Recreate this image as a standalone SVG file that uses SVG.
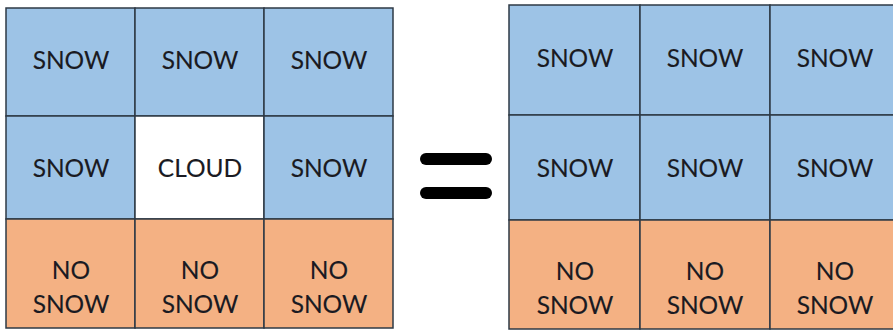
<svg xmlns="http://www.w3.org/2000/svg" width="893" height="334" viewBox="0 0 893 334">
<style>
.b{fill:#9dc3e6;stroke:#2e3a45;stroke-width:1.5}
.o{fill:#f4b183;stroke:#2e3a45;stroke-width:1.5}
.w{fill:#ffffff;stroke:#2e3a45;stroke-width:1.5}
text{font-family:Lato,"Open Sans",sans-serif;font-size:24.5px;fill:#1a1a22;text-anchor:middle;stroke:#1a1a22;stroke-width:0.1}
.eq{stroke:#000;stroke-width:12;stroke-linecap:round}
</style>
<rect width="893" height="334" fill="#ffffff"/>
<g id="left-grid">
<g id="L11"><rect class="b" x="6" y="8" width="129" height="108"/><text x="71" y="69">SNOW</text></g>
<g id="L12"><rect class="b" x="135" y="8" width="129" height="108"/><text x="200" y="69">SNOW</text></g>
<g id="L13"><rect class="b" x="264" y="8" width="129" height="108"/><text x="329" y="69">SNOW</text></g>
<g id="L21"><rect class="b" x="6" y="116" width="129" height="103"/><text x="71" y="177">SNOW</text></g>
<g id="L22"><rect class="w" x="135" y="116" width="129" height="103"/><text x="200" y="177">CLOUD</text></g>
<g id="L23"><rect class="b" x="264" y="116" width="129" height="103"/><text x="329" y="177">SNOW</text></g>
<g id="L31"><rect class="o" x="6" y="219" width="129" height="109"/><text x="71" y="279">NO</text><text x="71" y="313">SNOW</text></g>
<g id="L32"><rect class="o" x="135" y="219" width="129" height="109"/><text x="200" y="279">NO</text><text x="200" y="313">SNOW</text></g>
<g id="L33"><rect class="o" x="264" y="219" width="129" height="109"/><text x="329" y="279">NO</text><text x="329" y="313">SNOW</text></g>
</g>
<g id="equals">
<line class="eq" x1="426" y1="159" x2="486" y2="159"/>
<line class="eq" x1="426" y1="193" x2="486" y2="193"/>
</g>
<g id="right-grid">
<g id="R11"><rect class="b" x="509" y="5" width="131" height="110"/><text x="575" y="67">SNOW</text></g>
<g id="R12"><rect class="b" x="640" y="5" width="130" height="110"/><text x="705" y="67">SNOW</text></g>
<g id="R13"><rect class="b" x="770" y="5" width="130" height="110"/><text x="835" y="67">SNOW</text></g>
<g id="R21"><rect class="b" x="509" y="115" width="131" height="105"/><text x="575" y="177">SNOW</text></g>
<g id="R22"><rect class="b" x="640" y="115" width="130" height="105"/><text x="705" y="177">SNOW</text></g>
<g id="R23"><rect class="b" x="770" y="115" width="130" height="105"/><text x="835" y="177">SNOW</text></g>
<g id="R31"><rect class="o" x="509" y="220" width="131" height="109"/><text x="575" y="280">NO</text><text x="575" y="314">SNOW</text></g>
<g id="R32"><rect class="o" x="640" y="220" width="130" height="109"/><text x="705" y="280">NO</text><text x="705" y="314">SNOW</text></g>
<g id="R33"><rect class="o" x="770" y="220" width="130" height="109"/><text x="835" y="280">NO</text><text x="835" y="314">SNOW</text></g>
</g>
<g id="connectors"></g>
</svg>
